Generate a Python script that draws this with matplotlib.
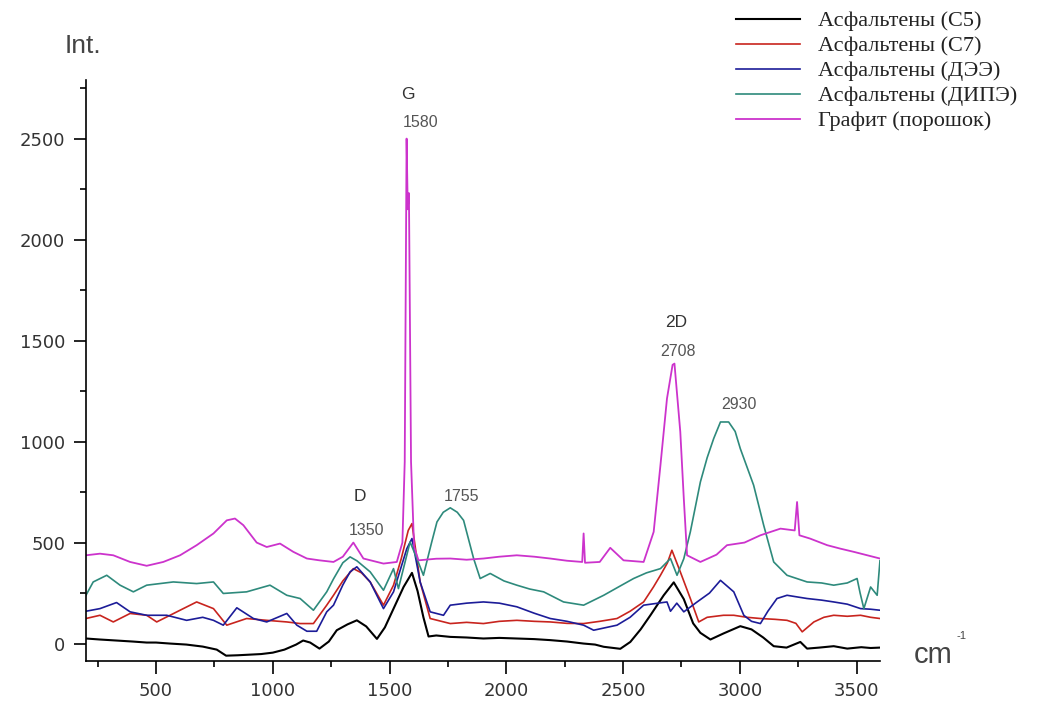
import matplotlib
matplotlib.use("Agg")
import matplotlib.pyplot as plt
from matplotlib.ticker import MultipleLocator

# ---------------- data ----------------
c5_x = [200, 260, 330, 400, 460, 500, 560, 630, 700, 760,
        800, 850, 900, 950, 1000, 1050, 1100, 1130, 1160, 1200,
        1240, 1274, 1320, 1360, 1400, 1446, 1480, 1520, 1560, 1596,
        1620, 1645, 1667, 1700, 1760, 1830, 1902, 1970, 2045, 2120,
        2188, 2260, 2331, 2380, 2417, 2488, 2531, 2575, 2617, 2674,
        2717, 2760, 2800, 2831, 2874, 2930, 3002, 3050, 3100, 3145,
        3200, 3259, 3288, 3340, 3402, 3460, 3520, 3560, 3600]
c5_y = [25, 20, 15, 10, 5, 5, 0, -5, -15, -30,
        -60, -58, -55, -52, -45, -30, -5, 15, 5, -25,
        10, 66, 95, 115, 85, 23, 80, 180, 280, 350,
        260, 130, 35, 40, 33, 30, 25, 28, 25, 22,
        17, 10, 0, -5, -16, -26, 8, 70, 140, 239,
        303, 220, 100, 53, 20, 50, 86, 70, 30, -13,
        -20, 8, -25, -20, -13, -25, -18, -22, -20]

c7_x = [200, 260, 317, 389, 460, 503, 560, 603, 674, 746,
        803, 888, 974, 1060, 1117, 1174, 1231, 1260, 1300, 1345,
        1380, 1417, 1474, 1517, 1550, 1580, 1596, 1631, 1674, 1760,
        1830, 1902, 1970, 2045, 2120, 2188, 2260, 2331, 2400, 2474,
        2530, 2588, 2630, 2660, 2690, 2709, 2745, 2788, 2824, 2860,
        2930, 2974, 3030, 3088, 3150, 3202, 3240, 3267, 3317, 3360,
        3402, 3460, 3517, 3560, 3600]
c7_y = [124, 140, 107, 149, 140, 107, 140, 165, 206, 173,
        91, 124, 115, 107, 99, 99, 190, 239, 310, 371,
        350, 305, 190, 289, 420, 560, 594, 305, 124, 99,
        105, 99, 110, 115, 110, 107, 100, 99, 110, 124,
        160, 206, 280, 338, 400, 462, 355, 223, 107, 130,
        140, 140, 130, 124, 120, 115, 100, 58, 107, 130,
        140, 135, 140, 130, 124]

dee_x = [200, 260, 331, 389, 460, 546, 631, 700, 746, 788,
         846, 917, 974, 1060, 1103, 1146, 1188, 1231, 1260, 1300,
         1331, 1360, 1417, 1474, 1517, 1550, 1574, 1596, 1631, 1674,
         1731, 1760, 1830, 1902, 1970, 2045, 2120, 2188, 2260, 2331,
         2374, 2474, 2530, 2588, 2650, 2688, 2703, 2730, 2760, 2817,
         2870, 2917, 2974, 3017, 3050, 3088, 3120, 3159, 3202, 3250,
         3288, 3350, 3402, 3460, 3517, 3560, 3600]
dee_y = [160, 173, 203, 157, 140, 140, 115, 130, 115, 91,
         177, 124, 107, 149, 91, 61, 61, 157, 190, 290,
         355, 380, 305, 173, 256, 380, 470, 520, 305, 157,
         140, 190, 200, 206, 200, 182, 150, 124, 110, 91,
         66, 91, 130, 190, 200, 206, 160, 200, 157, 206,
         250, 313, 256, 140, 110, 99, 160, 223, 239, 230,
         223, 215, 206, 195, 173, 170, 165]

dipe_x = [200, 231, 289, 346, 403, 460, 574, 674, 746, 788,
          888, 988, 1060, 1117, 1174, 1231, 1260, 1300, 1331, 1360,
          1417, 1474, 1517, 1538, 1570, 1588, 1617, 1645, 1680, 1703,
          1730, 1760, 1790, 1817, 1860, 1888, 1931, 1990, 2045, 2100,
          2160, 2245, 2331, 2417, 2480, 2545, 2600, 2660, 2703, 2731,
          2760, 2788, 2831, 2860, 2888, 2917, 2952, 2980, 3002, 3059,
          3102, 3145, 3202, 3288, 3350, 3402, 3460, 3502, 3515, 3531,
          3560, 3588, 3600]
dipe_y = [239, 305, 338, 289, 256, 289, 305, 297, 305, 248,
          256, 289, 239, 223, 165, 256, 320, 400, 429, 410,
          355, 264, 371, 272, 420, 503, 421, 338, 500, 602,
          650, 672, 650, 610, 421, 322, 347, 310, 289, 270,
          256, 206, 190, 239, 280, 322, 350, 371, 421, 338,
          420, 553, 800, 920, 1015, 1097, 1097, 1050, 965, 784,
          586, 404, 338, 305, 300, 289, 300, 322, 250, 173,
          280, 239, 410]

graph_x = [200, 260, 317, 389, 460, 531, 603, 674, 746, 803,
           838, 874, 931, 974, 1031, 1088, 1146, 1200, 1260, 1300,
           1345, 1388, 1474, 1531, 1555, 1565, 1573, 1578, 1583, 1592,
           1605, 1624, 1700, 1760, 1830, 1902, 1970, 2045, 2120, 2188,
           2260, 2325, 2331, 2337, 2400, 2445, 2502, 2588, 2631, 2660,
           2688, 2712, 2720, 2745, 2760, 2774, 2831, 2900, 2945, 3020,
           3088, 3174, 3235, 3245, 3255, 3300, 3374, 3430, 3488, 3600]
graph_y = [437, 445, 437, 404, 385, 404, 437, 487, 545, 610,
           619, 586, 500, 478, 495, 454, 421, 412, 404, 430,
           500, 421, 396, 404, 500, 900, 2500, 2150, 2230, 900,
           480, 412, 420, 421, 415, 421, 430, 437, 430, 421,
           410, 404, 545, 400, 404, 474, 412, 404, 553, 883,
           1213, 1380, 1386, 1048, 718, 437, 404, 440, 487, 500,
           536, 569, 560, 701, 536, 520, 487, 470, 454, 421]

series_labels = ["Асфальтены (С5)", "Асфальтены (С7)", "Асфальтены (ДЭЭ)",
                 "Асфальтены (ДИПЭ)", "Графит (порошок)"]
series_colors = ["#000000", "#c8241e", "#1c1c98", "#2e8a7c", "#cc33cc"]

peak_labels = [("G", 1580, 2718, 12.5), ("1580", 1631, 2579, 11.5),
               ("D", 1374, 730, 12.5), ("1350", 1402, 562, 11.5),
               ("1755", 1807, 730, 11.5),
               ("2D", 2728, 1589, 12.5), ("2708", 2737, 1448, 11.5),
               ("2930", 2998, 1183, 11.5)]

x_ticks = [500, 1000, 1500, 2000, 2500, 3000, 3500]
y_ticks = [0, 500, 1000, 1500, 2000, 2500]

# ---------------- figure ----------------
fig = plt.figure(figsize=(10.56, 7.02), dpi=100)
ax = fig.add_axes([0.0814, 0.0588, 0.7519, 0.8272])

data = [(c5_x, c5_y), (c7_x, c7_y), (dee_x, dee_y), (dipe_x, dipe_y), (graph_x, graph_y)]
widths = [1.5, 1.2, 1.2, 1.2, 1.3]
for (xs, ys), lab, col, lw in zip(data, series_labels, series_colors, widths):
    ax.plot(xs, ys, color=col, lw=lw, label=lab)

ax.set_xlim(200, 3600)
ax.set_ylim(-85, 2790)
ax.set_xticks(x_ticks)
ax.set_yticks(y_ticks)
ax.xaxis.set_minor_locator(MultipleLocator(250))
ax.yaxis.set_minor_locator(MultipleLocator(250))
for s in ("top", "right"):
    ax.spines[s].set_visible(False)
for s in ("left", "bottom"):
    ax.spines[s].set_linewidth(1.2)
ax.tick_params(which="major", direction="out", length=9, width=1.2, pad=6)
ax.tick_params(which="minor", direction="out", length=4.5, width=1.2)
for lab in ax.get_xticklabels() + ax.get_yticklabels():
    lab.set_fontfamily("DejaVu Sans")
    lab.set_fontsize(13)
    lab.set_color("#333333")

for txt, xv, yv, fs in peak_labels:
    col = "#333333" if fs > 12 else "#555555"
    ax.text(xv, yv, txt, ha="center", va="center", fontsize=fs,
            family="Liberation Sans", color=col)

fig.text(0.0785, 0.935, "Int.", ha="center", va="center", fontsize=19,
         family="Liberation Sans", color="#444444")
fig.text(0.8835, 0.067, "cm", ha="center", va="center", fontsize=21,
         family="Liberation Sans", color="#444444")
fig.text(0.9055, 0.0935, "-1", ha="left", va="center", fontsize=8,
         family="Liberation Sans", color="#444444")

leg = fig.legend(loc="upper left", bbox_to_anchor=(0.678, 1.013), frameon=False,
                 prop={"family": "Liberation Serif", "size": 16},
                 handlelength=2.9, handletextpad=0.8, labelspacing=0.2)
for t in leg.get_texts():
    t.set_color("#222222")

fig.savefig("out.png", dpi=100)
